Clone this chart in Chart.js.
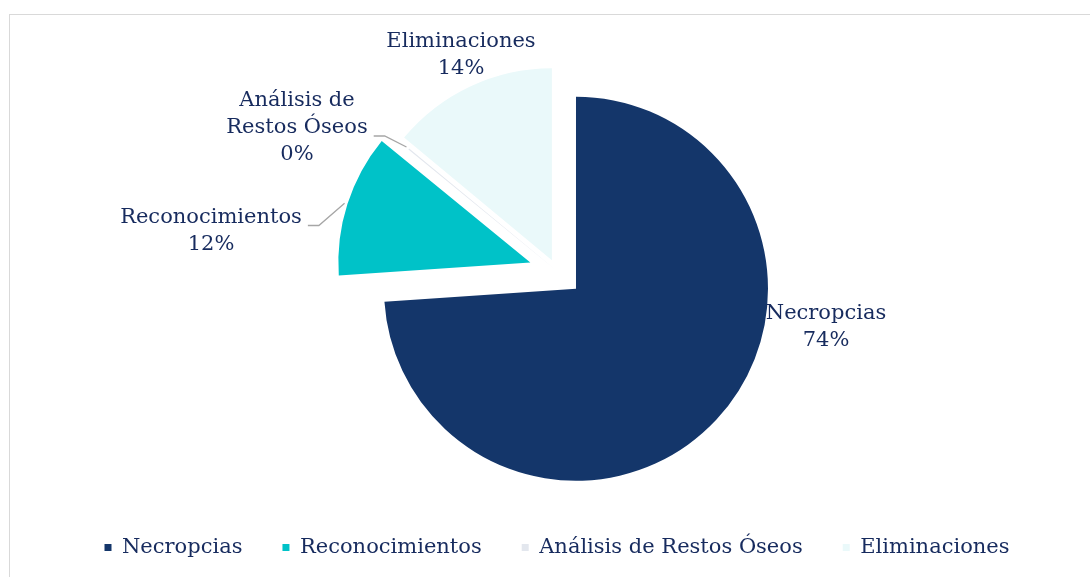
<!DOCTYPE html>
<html>
<head>
<meta charset="utf-8">
<script src="https://cdn.jsdelivr.net/npm/chart.js@4.4.0/dist/chart.umd.min.js"></script>
<style>
html, body { margin: 0; padding: 0; background: #fff; overflow: hidden; }
#frame { position: absolute; left: 9px; top: 14px; width: 1200px; height: 700px; border: 1px solid #d9d9d9; }
#wrap { position: absolute; left: 0; top: 0; width: 1090px; height: 577px; }
</style>
</head>
<body>
<div id="frame"></div>
<div id="wrap"><canvas id="pieChart" width="1090" height="577"></canvas></div>
<script>
// data
const categories = ['Necropcias', 'Reconocimientos', 'Análisis de Restos Óseos', 'Eliminaciones'];
const labelLines = [['Necropcias'], ['Reconocimientos'], ['Análisis de', 'Restos Óseos'], ['Eliminaciones']];
const values = [74, 12, 0.1, 14];

const sliceColors = ['#14366a', '#00c2c8', '#e3e7ee', '#eaf9fa'];
const textColor = '#172b5e';
const explode = [26, 28, 0, 12];   // px each slice is pulled out along its middle angle
const pieRadius = 192;
const lineGap = 27;
// label block centre, relative to the pie centre
const labelSpots = [[269, 56], [-346, -40], [-260, -143], [-96, -216]];
const leaders = [false, true, true, false];

// pull slices out like an exploded excel pie (same radius, just moved)
const explodeSlices = {
    id: 'explodeSlices',
    afterDatasetUpdate(chart, args) {
        args.meta.data.forEach((arc, i) => {
            const mid = (arc.startAngle + arc.endAngle) / 2;
            arc.x += Math.cos(mid) * explode[i];
            arc.y += Math.sin(mid) * explode[i];
        });
    }
};

// slice labels with leader lines
const sliceLabels = {
    id: 'sliceLabels',
    afterDatasetsDraw(chart) {
        const ctx = chart.ctx;
        const meta = chart.getDatasetMeta(0);
        const total = values.reduce((a, b) => a + b, 0);
        const area = chart.chartArea;
        const cx = (area.left + area.right) / 2;
        const cy = (area.top + area.bottom) / 2;
        ctx.save();
        ctx.font = '21px "DejaVu Serif"';
        ctx.fillStyle = textColor;
        ctx.strokeStyle = '#a6a6a6';
        ctx.lineWidth = 1.3;
        ctx.textAlign = 'center';
        ctx.textBaseline = 'middle';
        meta.data.forEach((arc, i) => {
            const lines = labelLines[i].concat(Math.round(values[i] / total * 100) + '%');
            const x = cx + labelSpots[i][0];
            const top = cy + labelSpots[i][1] - (lines.length - 1) * lineGap / 2;
            lines.forEach((t, k) => ctx.fillText(t, x, top + k * lineGap));
            if (leaders[i]) {
                const row = lines.length - 2;
                const w = ctx.measureText(lines[row]).width;
                const sx = x + w / 2 + 6;
                const sy = top + row * lineGap + 8;
                const mid = (arc.startAngle + arc.endAngle) / 2;
                const r = arc.outerRadius + 3;
                ctx.beginPath();
                ctx.moveTo(sx, sy);
                ctx.lineTo(sx + 11, sy);
                ctx.lineTo(arc.x + Math.cos(mid) * r, arc.y + Math.sin(mid) * r);
                ctx.stroke();
            }
        });
        ctx.restore();
    }
};

const pieCtx = document.getElementById('pieChart').getContext('2d');
const pieChart = new Chart(pieCtx, {
    type: 'pie',
    data: {
        labels: categories,
        datasets: [{
            data: values,
            backgroundColor: sliceColors,
            borderWidth: 0,
            hoverOffset: 0
        }]
    },
    options: {
        responsive: false,
        animation: false,
        radius: pieRadius,
        layout: {
            padding: { left: 24, right: 0, top: 45, bottom: 9 }
        },
        plugins: {
            tooltip: { enabled: false },
            legend: {
                position: 'bottom',
                labels: {
                    boxWidth: 7,
                    boxHeight: 7,
                    padding: 40,
                    color: textColor,
                    font: { family: 'DejaVu Serif', size: 21 }
                }
            }
        }
    },
    plugins: [explodeSlices, sliceLabels]
});
</script>
</body>
</html>
